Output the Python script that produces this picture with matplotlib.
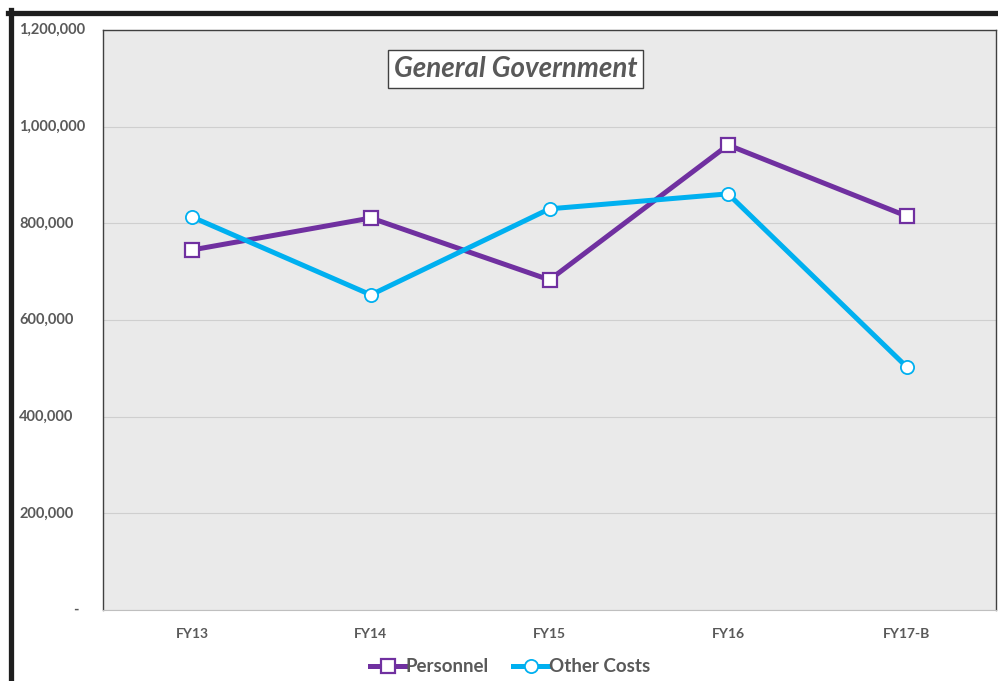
import matplotlib.pyplot as plt
from matplotlib.lines import Line2D

# data
years = ['FY13', 'FY14', 'FY15', 'FY16', 'FY17-B']
personnel = [745000, 811000, 683000, 962000, 815000]
other_costs = [813000, 652000, 830000, 861000, 503000]
y_ticks = [0, 200000, 400000, 600000, 800000, 1000000, 1200000]
y_labels = ['-', '200,000', '400,000', '600,000', '800,000', '1,000,000', '1,200,000']

plt.rcParams['font.family'] = ['Lato', 'DejaVu Sans']
grey = '#595959'

fig = plt.figure(figsize=(9.98, 6.81), dpi=100)
ax = fig.add_axes([103 / 998, 1 - 610 / 681, 893 / 998, 580 / 681])
ax.set_facecolor('#eaeaea')

x = list(range(len(years)))
ax.plot(x, personnel, color='#7030A0', lw=3.6, marker='s', ms=9.5,
        mfc='white', mec='#7030A0', mew=1.6, label='Personnel', zorder=3)
ax.plot(x, other_costs, color='#00B0F0', lw=3.6, marker='o', ms=9.5,
        mfc='white', mec='#00B0F0', mew=1.3, label='Other Costs', zorder=3)

ax.set_xlim(-0.5, len(years) - 0.5)
ax.set_ylim(0, 1200000)
ax.set_xticks(x)
ax.set_xticklabels(years, fontsize=10, fontweight='bold', color=grey)
ax.tick_params(axis='x', length=0, pad=13)

ax.set_yticks(y_ticks)
ax.set_yticklabels([])
ax.tick_params(axis='y', length=0)
ax.grid(axis='y', color='#cfcfcf', lw=0.8)
ax.set_axisbelow(True)

# y labels are left aligned like the original
for v, lab in zip(y_ticks, y_labels):
    xpos = -84 / 893 if lab != '-' else -30 / 893
    ax.text(xpos, v, lab, transform=ax.get_yaxis_transform(), ha='left', va='center',
            fontsize=10.5, fontweight='bold', color=grey)

for side in ['top', 'right', 'left']:
    ax.spines[side].set_color('#404040')
    ax.spines[side].set_linewidth(1.0)
ax.spines['bottom'].set_color('#bfbfbf')

ax.text(0.462, 0.933, 'General Government', transform=ax.transAxes, ha='center', va='center',
        fontsize=20, fontweight='bold', fontstyle='italic', color=grey,
        bbox=dict(boxstyle='square,pad=0.22', fc='white', ec='#404040', lw=1.0))

leg = fig.legend(loc='center', bbox_to_anchor=(510 / 998, 1 - 667 / 681), ncol=2, frameon=False,
                 fontsize=13.5, labelcolor=grey, handlelength=1.9,
                 handletextpad=0.0, columnspacing=1.3)
for t in leg.get_texts():
    t.set_fontweight('bold')

# thick outer frame on top and left
fig.add_artist(Line2D([8 / 998, 1], [1 - 12.5 / 681] * 2, color='#1e1e1e', lw=3.8))
fig.add_artist(Line2D([10.5 / 998] * 2, [0, 1 - 10 / 681], color='#1e1e1e', lw=3.8))

plt.savefig('out.png', dpi=100)
